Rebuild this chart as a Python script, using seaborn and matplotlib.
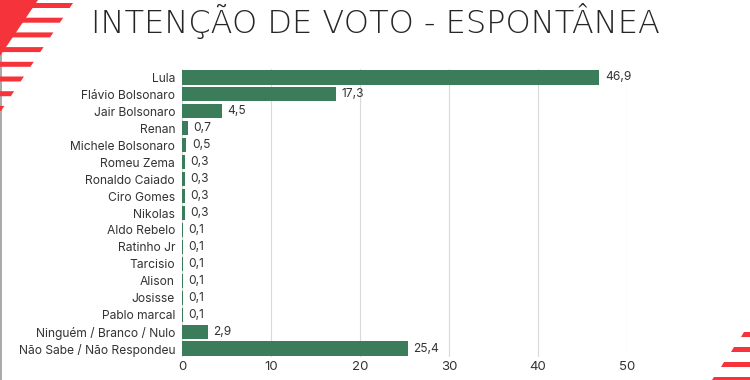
import matplotlib
matplotlib.use("Agg")
import matplotlib.pyplot as plt
from matplotlib.patches import Polygon
import seaborn as sns
import pandas as pd

# Data
candidatos = ["Lula", "Flávio Bolsonaro", "Jair Bolsonaro", "Renan", "Michele Bolsonaro",
              "Romeu Zema", "Ronaldo Caiado", "Ciro Gomes", "Nikolas", "Aldo Rebelo",
              "Ratinho Jr", "Tarcisio", "Alison", "Josisse", "Pablo marcal",
              "Ninguém / Branco / Nulo", "Não Sabe / Não Respondeu"]
percentuais = [46.9, 17.3, 4.5, 0.7, 0.5, 0.3, 0.3, 0.3, 0.3, 0.1, 0.1, 0.1, 0.1, 0.1, 0.1, 2.9, 25.4]
xticks = [0, 10, 20, 30, 40, 50]

titulo = "INTENÇÃO DE VOTO - ESPONTÂNEA"
verde = "#3b7d5b"
texto = "#333333"

df = pd.DataFrame({"nome": candidatos, "pct": percentuais})

sns.set_theme(style="white")
plt.rcParams['font.family'] = ['Inter', 'DejaVu Sans']

W, H = 750, 380
fig = plt.figure(figsize=(W / 100, H / 100), dpi=100)
fig.patch.set_facecolor("white")

# axes placed in pixel terms
left, right, top, bottom = 182, 627, 69, 357
ax = fig.add_axes([left / W, 1 - bottom / H, (right - left) / W, (bottom - top) / H])

sns.barplot(data=df, x="pct", y="nome", orient="h", color=verde, width=0.83,
            linewidth=0, saturation=1, ax=ax, zorder=3)

for p, v in zip(ax.patches, percentuais):
    ax.text(p.get_width() + 0.6, p.get_y() + p.get_height() / 2,
            f"{v:.1f}".replace(".", ","), va="center", ha="left",
            fontsize=8.6, color=texto)

ax.set_xlim(0, 50)
ax.set_xticks(xticks)
ax.set_xticklabels([str(t) for t in xticks], fontsize=9.5, color=texto)
ax.tick_params(axis="y", labelsize=8.7, labelcolor=texto, length=0, pad=5)
ax.tick_params(axis="x", length=0, pad=3)
ax.set_xlabel("")
ax.set_ylabel("")
ax.grid(axis="x", color="#d9d9d9", linewidth=0.8, zorder=0)
ax.set_axisbelow(True)
for s in ax.spines.values():
    s.set_visible(False)

# title
fig.text(0.5, 1 - 21 / H, titulo, ha="center", va="center", fontsize=23,
         color="#262626", family=["DejaVu Sans"], fontweight=200)

# decoration: red stripes, pixel coords converted to figure fractions
def px(pts):
    return [(x / W, 1 - y / H) for x, y in pts]

red = "#f5333a"
slope = 0.667
fig.add_artist(Polygon(px([(0, 0), (38, 0), (0, 56)]), closed=True,
                       transform=fig.transFigure, color=red, lw=0))
for i in range(8):
    y0 = 3 + i * 14.7
    y1 = y0 + 5
    fig.add_artist(Polygon(px([(0, y0), (75 - slope * y0, y0), (75 - slope * y1, y1), (0, y1)]),
                           closed=True, transform=fig.transFigure, color=red, lw=0))
for i in range(4):
    y0 = 332 + i * 15
    y1 = min(y0 + 5, 380)
    fig.add_artist(Polygon(px([(742 - slope * (y0 - 335), y0), (750, y0), (750, y1),
                               (742 - slope * (y1 - 335), y1)]),
                           closed=True, transform=fig.transFigure, color=red, lw=0))
# thin gray edge on the left
fig.add_artist(plt.Line2D([1.2 / W, 1.2 / W], [0, 1], transform=fig.transFigure,
                          color="#9a9a9a", lw=1.2, zorder=0))

fig.savefig("out.png", dpi=100)
